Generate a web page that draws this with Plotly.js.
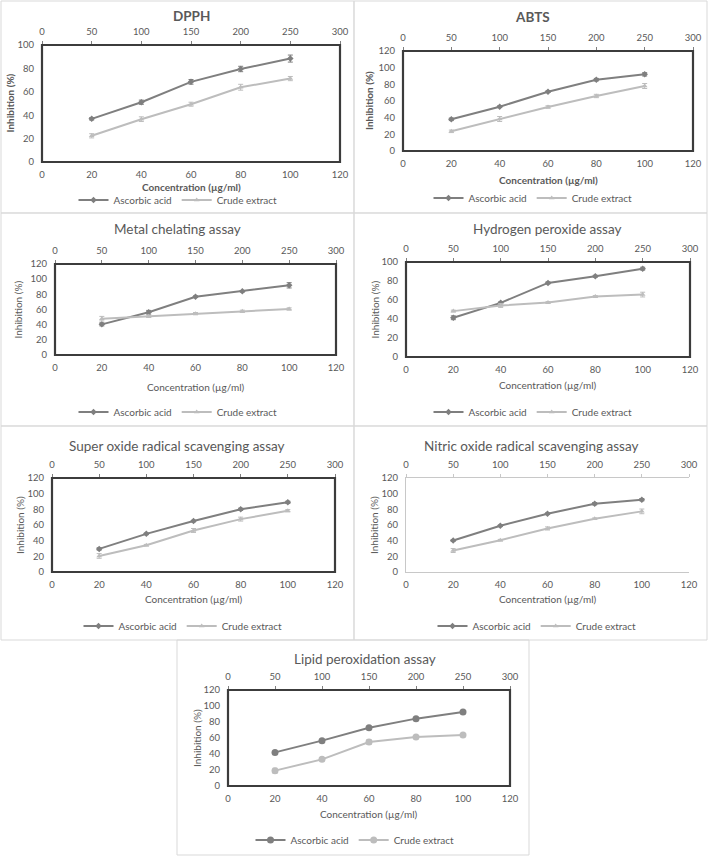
<!DOCTYPE html>
<html>
<head>
<meta charset="utf-8">
<script src="https://cdn.plot.ly/plotly-3.0.1.min.js"></script>
<style>html,body{margin:0;padding:0;background:#fff;}#chart{width:708px;height:856px;}</style>
</head>
<body>
<div id="chart"></div>
<script>
// ---- data ----
const concentrations = [20, 40, 60, 80, 100];
const seriesNames = ["Ascorbic acid", "Crude extract"];
const panelTitles = ["DPPH", "ABTS", "Metal chelating assay", "Hydrogen peroxide assay",
  "Super oxide radical scavenging assay", "Nitric oxide radical scavenging assay", "Lipid peroxidation assay"];
const xAxisTitle = "Concentration (µg/ml)";
const yAxisTitle = "Inhibition (%)";

const dpphAscorbic = [36.9, 51.1, 68.5, 79.5, 88.4];
const dpphAscorbicErr = [1, 1.8, 2, 2.3, 3];
const dpphCrude = [22.4, 36.6, 49.4, 63.9, 71.3];
const dpphCrudeErr = [1.8, 2, 1.7, 2.5, 1.8];

const abtsAscorbic = [38, 53.2, 71.2, 85.6, 92];
const abtsAscorbicErr = [1.5, 1, 1, 1.5, 2];
const abtsCrude = [23.6, 38.4, 52.8, 66, 78];
const abtsCrudeErr = [1.5, 3, 1.5, 2, 3];

const metalAscorbic = [40.4, 56.3, 76.9, 84, 91.9];
const metalAscorbicErr = [2, 2.5, 1, 1, 3.5];
const metalCrude = [47.9, 51, 54.5, 57.6, 60.7];
const metalCrudeErr = [3, 1.5, 1.5, 1.5, 1.5];

const h2o2Ascorbic = [41.3, 57, 78, 85, 93];
const h2o2AscorbicErr = [2, 1, 1, 1, 1.5];
const h2o2Crude = [48.3, 54.2, 57.3, 63.6, 65.7];
const h2o2CrudeErr = [1, 2, 1, 1, 2.5];

const superAscorbic = [29.5, 48.7, 65, 80, 88.9];
const superAscorbicErr = [1.5, 1, 1, 1.5, 1.5];
const superCrude = [20.5, 34.2, 53, 67.5, 78.2];
const superCrudeErr = [3, 1, 2.5, 2.5, 1.5];

const nitricAscorbic = [40.2, 59, 74.4, 87.2, 92.3];
const nitricAscorbicErr = [1, 1, 1, 1.5, 1.5];
const nitricCrude = [27.4, 40.6, 55.6, 68, 77.4];
const nitricCrudeErr = [2.5, 1, 2, 1, 3];

const lipidAscorbic = [42, 56.7, 72.9, 84.2, 92.5];
const lipidAscorbicErr = [1, 1, 1, 1, 1];
const lipidCrude = [19.2, 33.3, 55, 61.3, 63.8];
const lipidCrudeErr = [3, 1, 3, 1, 1];

const bottomRange = [0, 120];
const topRange = [0, 300];

// ---- layout helpers ----
const W = 708, H = 856;
const FONT = "Lato, 'Open Sans', sans-serif";
const TXT = "#595959";
const C_ASC = "#7f7f7f", C_CRU = "#bdbdbd";
const px = v => v / W;
const py = v => 1 - v / H;

const panels = [
  {asc: dpphAscorbic, ascE: dpphAscorbicErr, cru: dpphCrude, cruE: dpphCrudeErr, ymax: 100,
   plot: [42, 340, 45, 162], titleXY: [191, 16], bold: true, xtY: 187, ytX: 10, legY: 200, legX: 178, sym: ["diamond", "triangle-up"], box: true},
  {asc: abtsAscorbic, ascE: abtsAscorbicErr, cru: abtsCrude, cruE: abtsCrudeErr, ymax: 120,
   plot: [403, 693, 51, 151], titleXY: [532, 17], bold: true, xtY: 180, ytX: 369, legY: 198, legX: 533, sym: ["diamond", "triangle-up"], box: true},
  {asc: metalAscorbic, ascE: metalAscorbicErr, cru: metalCrude, cruE: metalCrudeErr, ymax: 120,
   plot: [55, 336, 264, 355], titleXY: [177, 229], bold: false, xtY: 387, ytX: 18, legY: 412, legX: 178, sym: ["diamond", "triangle-up"], box: true},
  {asc: h2o2Ascorbic, ascE: h2o2AscorbicErr, cru: h2o2Crude, cruE: h2o2CrudeErr, ymax: 100,
   plot: [406, 690, 262, 357], titleXY: [547, 229], bold: false, xtY: 385, ytX: 374, legY: 412, legX: 533, sym: ["diamond", "triangle-up"], box: true},
  {asc: superAscorbic, ascE: superAscorbicErr, cru: superCrude, cruE: superCrudeErr, ymax: 120,
   plot: [52, 335, 478, 572], titleXY: [177, 446], bold: false, xtY: 599, ytX: 20, legY: 626, legX: 183, sym: ["diamond", "triangle-up"], box: true},
  {asc: nitricAscorbic, ascE: nitricAscorbicErr, cru: nitricCrude, cruE: nitricCrudeErr, ymax: 120,
   plot: [406, 689, 478, 572], titleXY: [531, 446], bold: false, xtY: 599, ytX: 374, legY: 626, legX: 537, sym: ["diamond", "triangle-up"], box: false},
  {asc: lipidAscorbic, ascE: lipidAscorbicErr, cru: lipidCrude, cruE: lipidCrudeErr, ymax: 120,
   plot: [228, 510, 690, 786], titleXY: [365, 659], bold: false, xtY: 814, ytX: 197, legY: 840, legX: 355, sym: ["circle", "circle"], box: true}
];

const data = [];
const layout = {
  width: W, height: H,
  margin: {l: 0, r: 0, t: 0, b: 0},
  paper_bgcolor: "#ffffff", plot_bgcolor: "#ffffff",
  font: {family: FONT, color: TXT, size: 10},
  annotations: [], shapes: []
};

// panel frames
const frames = [[1, 354, 1, 213], [354, 707, 1, 213], [1, 354, 213, 426], [354, 707, 213, 426],
  [1, 354, 426, 640], [354, 707, 426, 640], [177, 529, 640, 855]];
frames.forEach(f => layout.shapes.push({type: "rect", xref: "paper", yref: "paper",
  x0: px(f[0]), x1: px(f[1]), y0: py(f[3]), y1: py(f[2]), line: {color: "#d9d9d9", width: 1}, layer: "below"}));

const tickFont = () => ({size: 9.5, color: TXT, family: FONT});

panels.forEach((p, i) => {
  const n = i + 1, nt = i + 8;
  const xa = "x" + n, ya = "y" + n, xt = "x" + nt;
  const legKey = n === 1 ? "legend" : "legend" + n;
  const [x0, x1, y0, y1] = p.plot;
  const xDom = [px(x0), px(x1)], yDom = [py(y1), py(y0)];
  const axisLine = p.box ? "#7f7f7f" : "#c8c8c8";

  layout["xaxis" + n] = {domain: xDom, anchor: ya, range: bottomRange, dtick: 20, tick0: 0,
    showgrid: false, zeroline: false, showline: true, linecolor: axisLine, linewidth: 1,
    ticks: "outside", ticklen: 4, tickcolor: "rgba(0,0,0,0)",
    tickfont: tickFont(), fixedrange: true};
  layout["xaxis" + nt] = {overlaying: xa, anchor: ya, side: "top", range: topRange, dtick: 50, tick0: 0,
    showgrid: false, zeroline: false, showline: true, linecolor: axisLine, linewidth: 1,
    ticks: "outside", ticklen: 3, tickcolor: axisLine, ticklabelstandoff: 2,
    tickfont: tickFont(), fixedrange: true};
  layout["yaxis" + n] = {domain: yDom, anchor: xa, range: [0, p.ymax], dtick: 20, tick0: 0,
    showgrid: false, zeroline: false, showline: true, linecolor: axisLine, linewidth: 1,
    ticks: "outside", ticklen: 5, tickcolor: "rgba(0,0,0,0)",
    tickfont: tickFont(), fixedrange: true};

  layout[legKey] = {x: px(p.legX), y: py(p.legY), xanchor: "center", yanchor: "middle",
    orientation: "h", bgcolor: "rgba(0,0,0,0)", font: {size: 10, color: TXT, family: FONT},
    itemwidth: 30, tracegroupgap: 0, itemclick: false};

  const mk = (yv, ev, name, color, sym) => ({
    type: "scatter", mode: "lines+markers", x: concentrations, y: yv, name: name,
    xaxis: xa, yaxis: ya, legend: legKey,
    line: {color: color, width: 2},
    marker: {color: color, symbol: sym, size: p.sym[0] === "circle" ? 7 : 5},
    error_y: {type: "data", array: ev, visible: true, color: color, thickness: 1, width: 2.5},
    hoverinfo: "skip"
  });
  data.push(mk(p.asc, p.ascE, seriesNames[0], C_ASC, p.sym[0]));
  data.push(mk(p.cru, p.cruE, seriesNames[1], C_CRU, p.sym[1]));
  data.push({type: "scatter", mode: "markers", x: [], y: [], xaxis: xt, yaxis: ya, showlegend: false, hoverinfo: "skip"});

  if (p.box) {
    layout.shapes.push({type: "rect", xref: xa + " domain", yref: ya + " domain", x0: 0, x1: 1, y0: 0, y1: 1,
      line: {color: "#3c3c3c", width: 2.2}, layer: "above"});
  }

  layout.annotations.push({text: p.bold ? "<b>" + panelTitles[i] + "</b>" : panelTitles[i],
    xref: "paper", yref: "paper", x: px(p.titleXY[0]), y: py(p.titleXY[1]), xanchor: "center", yanchor: "middle",
    showarrow: false, font: {size: 13.5, color: TXT, family: FONT}});
  layout.annotations.push({text: p.bold ? "<b>" + xAxisTitle + "</b>" : xAxisTitle,
    xref: "paper", yref: "paper", x: (xDom[0] + xDom[1]) / 2, y: py(p.xtY), xanchor: "center", yanchor: "middle",
    showarrow: false, font: {size: 10, color: TXT, family: FONT}});
  layout.annotations.push({text: p.bold ? "<b>" + yAxisTitle + "</b>" : yAxisTitle,
    xref: "paper", yref: "paper", x: px(p.ytX), y: (yDom[0] + yDom[1]) / 2, xanchor: "center", yanchor: "middle",
    textangle: -90, showarrow: false, font: {size: 10, color: TXT, family: FONT}});
});

Plotly.newPlot("chart", data, layout, {displayModeBar: false, staticPlot: true});
</script>
</body>
</html>
